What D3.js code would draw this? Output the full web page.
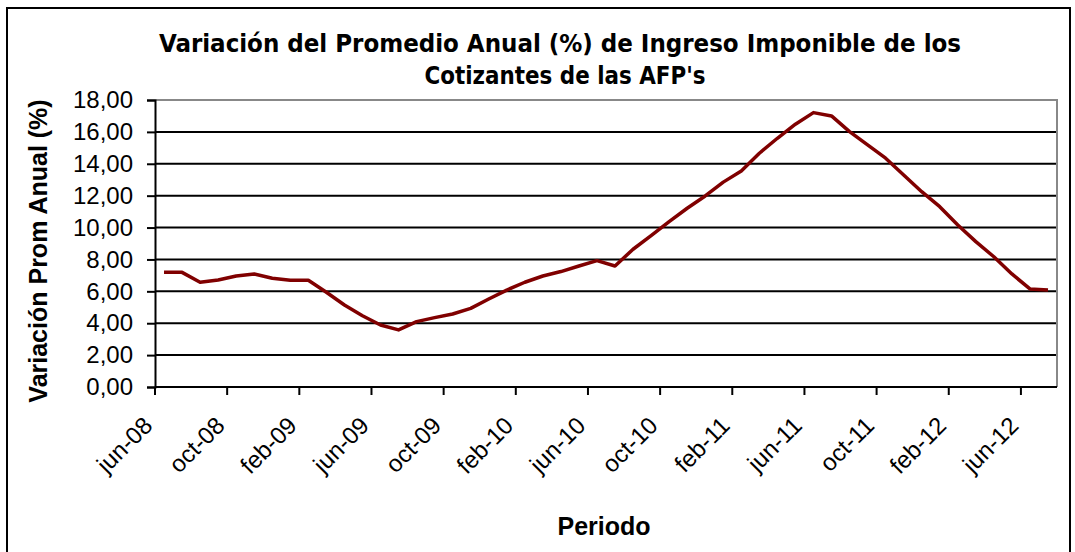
<!DOCTYPE html>
<html>
<head>
<meta charset="utf-8">
<script src="https://cdn.jsdelivr.net/npm/d3@7"></script>
<style>
  html, body { margin: 0; padding: 0; background: #fff; }
  svg { display: block; }
</style>
</head>
<body>
<svg id="chart" width="1075" height="552"></svg>
<script>
// Data
var months = [
  "jun-08","jul-08","ago-08","sep-08","oct-08","nov-08","dic-08",
  "ene-09","feb-09","mar-09","abr-09","may-09","jun-09","jul-09","ago-09","sep-09","oct-09","nov-09","dic-09",
  "ene-10","feb-10","mar-10","abr-10","may-10","jun-10","jul-10","ago-10","sep-10","oct-10","nov-10","dic-10",
  "ene-11","feb-11","mar-11","abr-11","may-11","jun-11","jul-11","ago-11","sep-11","oct-11","nov-11","dic-11",
  "ene-12","feb-12","mar-12","abr-12","may-12","jun-12","jul-12"
];
var variacion = [
  7.19, 7.19, 6.57, 6.71, 6.96, 7.09, 6.82,
  6.69, 6.69, 5.94, 5.14, 4.47, 3.89, 3.58, 4.10, 4.35, 4.58, 4.93, 5.52,
  6.08, 6.57, 6.96, 7.24, 7.59, 7.93, 7.59, 8.64, 9.49, 10.37, 11.21, 11.98,
  12.85, 13.55, 14.66, 15.60, 16.48, 17.21, 17.00, 16.02, 15.18, 14.35, 13.30, 12.25,
  11.31, 10.16, 9.12, 8.17, 7.09, 6.15, 6.08
];
var yTicks = [0, 2, 4, 6, 8, 10, 12, 14, 16, 18];
var xLabels = ["jun-08","oct-08","feb-09","jun-09","oct-09","feb-10","jun-10",
               "oct-10","feb-11","jun-11","oct-11","feb-12","jun-12"];

var titleLines = ["Variación del Promedio Anual (%) de Ingreso Imponible de los",
                  "Cotizantes de las AFP's"];

var svg = d3.select("#chart");
var plot = {left: 155, right: 1057, top: 100, bottom: 387};

// outer chart frame
svg.append("rect")
  .attr("x", 7).attr("y", 8)
  .attr("width", 1063).attr("height", 560)
  .attr("fill", "#fff")
  .attr("stroke", "#000")
  .attr("stroke-width", 2);

var x = d3.scaleBand()
  .domain(months)
  .range([plot.left, plot.right])
  .padding(0);

var y = d3.scaleLinear()
  .domain([0, 18])
  .range([plot.bottom, plot.top]);

// horizontal gridlines
svg.append("g")
  .selectAll("line")
  .data(yTicks.filter(function(d) { return d > 0 && d < 18; }))
  .enter()
  .append("line")
  .attr("x1", plot.left).attr("x2", plot.right)
  .attr("y1", function(d) { return y(d); })
  .attr("y2", function(d) { return y(d); })
  .attr("stroke", "#000")
  .attr("stroke-width", 2);

// plot frame (top and right in grey)
svg.append("path")
  .attr("d", "M" + plot.left + "," + y(18) + "H" + plot.right + "V" + plot.bottom)
  .attr("fill", "none")
  .attr("stroke", "#888")
  .attr("stroke-width", 2);

// y axis
var yAxis = d3.axisLeft(y)
  .tickValues(yTicks)
  .tickSize(8)
  .tickPadding(14)
  .tickFormat(function(d) { return d.toFixed(2).replace(".", ","); });

var gy = svg.append("g")
  .attr("transform", "translate(" + plot.left + ",0)")
  .call(yAxis);
gy.select(".domain").attr("stroke", "#000").attr("stroke-width", 2);
gy.selectAll(".tick line").attr("stroke", "#000").attr("stroke-width", 2);
gy.selectAll(".tick text")
  .attr("fill", "#000")
  .style("font-family", "'Liberation Sans', Arial, sans-serif")
  .style("font-size", "24px");

// x axis line and ticks every 4 months (tick marks sit between categories)
var gx = svg.append("g");
gx.append("line")
  .attr("x1", plot.left).attr("x2", plot.right)
  .attr("y1", plot.bottom).attr("y2", plot.bottom)
  .attr("stroke", "#000")
  .attr("stroke-width", 2);

gx.selectAll("line.tick")
  .data(xLabels)
  .enter()
  .append("line")
  .attr("class", "tick")
  .attr("x1", function(d) { return x(d); })
  .attr("x2", function(d) { return x(d); })
  .attr("y1", plot.bottom).attr("y2", plot.bottom + 8)
  .attr("stroke", "#000")
  .attr("stroke-width", 2);

gx.selectAll("text")
  .data(xLabels)
  .enter()
  .append("text")
  .attr("transform", function(d) { return "translate(" + (x(d) - 1) + "," + 427 + ") rotate(-45)"; })
  .attr("text-anchor", "end")
  .style("font-family", "'Liberation Sans', Arial, sans-serif")
  .style("font-size", "24px")
  .text(function(d) { return d; });

// the series
var line = d3.line()
  .x(function(d, i) { return x(months[i]) + x.bandwidth() / 2; })
  .y(function(d) { return y(d); });

svg.append("path")
  .datum(variacion)
  .attr("d", line)
  .attr("fill", "none")
  .attr("stroke", "#800000")
  .attr("stroke-width", 3.5)
  .attr("stroke-linejoin", "round");

// titles
svg.append("text")
  .attr("x", 560).attr("y", 52)
  .attr("text-anchor", "middle")
  .attr("textLength", 802)
  .attr("lengthAdjust", "spacingAndGlyphs")
  .style("font-family", "'DejaVu Sans Condensed', 'DejaVu Sans', sans-serif")
  .style("font-weight", "bold")
  .style("font-size", "25px")
  .text(titleLines[0]);

svg.append("text")
  .attr("x", 565).attr("y", 84)
  .attr("text-anchor", "middle")
  .attr("textLength", 281)
  .attr("lengthAdjust", "spacingAndGlyphs")
  .style("font-family", "'DejaVu Sans Condensed', 'DejaVu Sans', sans-serif")
  .style("font-weight", "bold")
  .style("font-size", "25px")
  .text(titleLines[1]);

svg.append("text")
  .attr("transform", "translate(47," + 251 + ") rotate(-90)")
  .attr("text-anchor", "middle")
  .style("font-family", "'Liberation Sans', Arial, sans-serif")
  .style("font-weight", "bold")
  .style("font-size", "25px")
  .text("Variación Prom Anual (%)");

svg.append("text")
  .attr("x", 604).attr("y", 535)
  .attr("text-anchor", "middle")
  .style("font-family", "'Liberation Sans', Arial, sans-serif")
  .style("font-weight", "bold")
  .style("font-size", "25px")
  .text("Periodo");
</script>
</body>
</html>
